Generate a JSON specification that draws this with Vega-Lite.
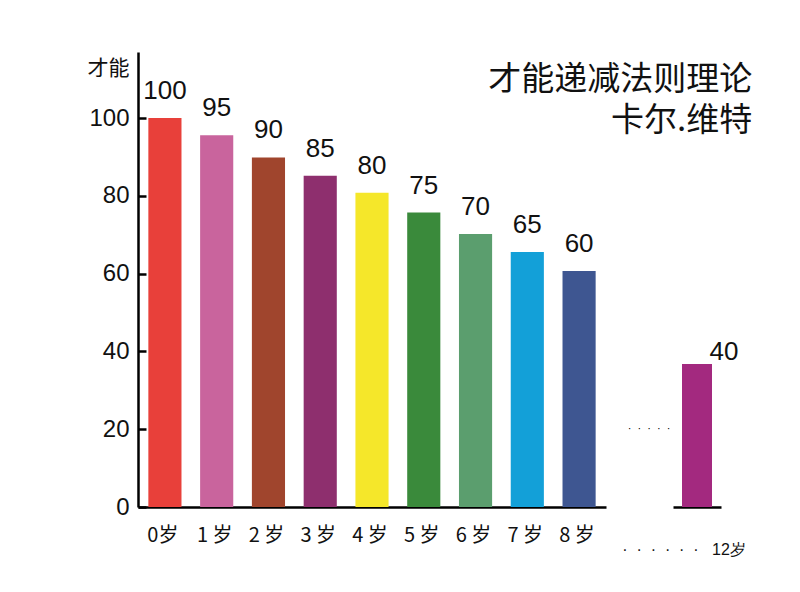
{
  "$schema": "https://vega.github.io/schema/vega-lite/v6.json",
  "background": "white",
  "padding": {"left": 87, "top": 52, "right": 5, "bottom": 5},
  "bounds": "flush",
  "spacing": 67,
  "title": {
    "text": "才能递减法则理论",
    "subtitle": "卡尔.维特",
    "anchor": "end",
    "align": "right",
    "font": "Noto Sans CJK SC",
    "fontSize": 33,
    "fontWeight": "normal",
    "color": "#111111",
    "subtitleFont": "Noto Sans CJK SC",
    "subtitleFontSize": 33,
    "subtitleColor": "#111111",
    "subtitlePadding": 8,
    "dy": 90,
    "dx": 7
  },
  "config": {
    "view": {"stroke": null},
    "axis": {"grid": false, "domainColor": "#000000", "domainWidth": 2.5, "labelColor": "#111111", "titleColor": "#111111"}
  },
  "hconcat": [
    {
      "width": 468,
      "height": 455,
      "data": {"values": [
        {"age": "0岁", "value": 100, "label": "100", "color": "#E8403A"},
        {"age": "1 岁", "value": 95.6, "label": "95", "color": "#C9649D"},
        {"age": "2 岁", "value": 89.9, "label": "90", "color": "#A0452D"},
        {"age": "3 岁", "value": 85.2, "label": "85", "color": "#8E2F6E"},
        {"age": "4 岁", "value": 80.8, "label": "80", "color": "#F5E72A"},
        {"age": "5 岁", "value": 75.7, "label": "75", "color": "#3A8A3B"},
        {"age": "6 岁", "value": 70.2, "label": "70", "color": "#5B9E6E"},
        {"age": "7 岁", "value": 65.6, "label": "65", "color": "#13A0D8"},
        {"age": "8 岁", "value": 60.7, "label": "60", "color": "#3E5691"}
      ]},
      "encoding": {
        "x": {
          "field": "age", "type": "nominal", "sort": null,
          "scale": {"paddingInner": 0.36, "paddingOuter": 0.2},
          "axis": {"title": null, "ticks": false, "labelAngle": 0, "labelFont": "Noto Sans CJK SC", "labelFontSize": 20, "labelPadding": 18, "labelOffset": -2}
        },
        "y": {
          "field": "value", "type": "quantitative",
          "scale": {"domain": [0, 117], "nice": false},
          "axis": {
            "values": [0, 20, 40, 60, 80, 100],
            "tickSize": -8, "tickWidth": 2.5, "tickColor": "#000000",
            "labelFont": "Liberation Sans", "labelFontSize": 24, "labelPadding": 17,
            "title": "才能", "titleAngle": 0, "titleFont": "Noto Sans CJK SC", "titleFontSize": 21, "titleFontWeight": "normal",
            "titleAlign": "right", "titleBaseline": "alphabetic", "titleX": -9, "titleY": 22
          }
        }
      },
      "layer": [
        {"mark": {"type": "bar"}, "encoding": {"color": {"field": "color", "type": "nominal", "scale": null}}},
        {"mark": {"type": "text", "font": "Liberation Sans", "fontSize": 26, "baseline": "alphabetic", "dy": -19, "color": "#111111"}, "encoding": {"text": {"field": "label"}}}
      ]
    },
    {
      "width": 48,
      "height": 455,
      "data": {"values": [
        {"age": "12岁", "value": 36.8, "label": "40", "color": "#A3297F"}
      ]},
      "encoding": {
        "x": {
          "field": "age", "type": "nominal",
          "scale": {"paddingInner": 0, "paddingOuter": 0.3},
          "axis": {"title": null, "ticks": false, "labelAngle": 0, "labelFont": "Liberation Sans", "labelFontSize": 16, "labelPadding": 34, "labelLimit": 400,
                   "labelExpr": "'·\u00a0\u00a0·\u00a0\u00a0·\u00a0\u00a0·\u00a0\u00a0·\u00a0\u00a0·\u00a0\u00a0\u00a0' + datum.label", "labelOffset": -13}
        },
        "y": {
          "field": "value", "type": "quantitative",
          "scale": {"domain": [0, 117], "nice": false},
          "axis": null
        }
      },
      "layer": [
        {"mark": {"type": "bar"}, "encoding": {"color": {"field": "color", "type": "nominal", "scale": null}}},
        {"mark": {"type": "text", "font": "Liberation Sans", "fontSize": 26, "baseline": "alphabetic", "dy": -4, "dx": 27, "color": "#111111"}, "encoding": {"text": {"field": "label"}}},
        {"mark": {"type": "text", "font": "Liberation Sans", "fontSize": 11, "dx": -48, "color": "#000000"}, "encoding": {"y": {"datum": 20}, "text": {"value": "·\u00a0\u00a0·\u00a0\u00a0·\u00a0\u00a0·\u00a0\u00a0·"}}}
      ]
    }
  ]
}
